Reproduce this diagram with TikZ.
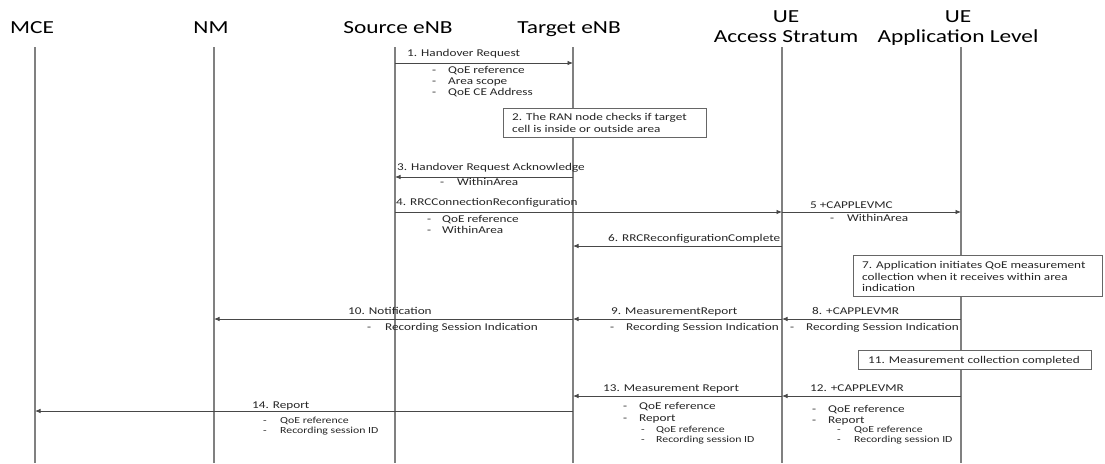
\documentclass[tikz,border=0pt]{standalone}
\usepackage{fontspec}
\setmainfont{Carlito}[FakeStretch=1.27]
\usetikzlibrary{arrows.meta}
\begin{document}
\begin{tikzpicture}[x=1pt,y=-1pt,
  life/.style={draw=black!50, line width=1.1pt},
  msg/.style={draw=black!72, line width=0.8pt, -{Latex[length=5.5pt,width=4.5pt]}},
  title/.style={font=\fontsize{18.4}{20}\selectfont, inner sep=0, anchor=base, text=black},
  lbl/.style={font=\fontsize{10.4}{12}\selectfont, anchor=base west, inner sep=0, text=black!85},
  sml/.style={font=\fontsize{9.3}{11}\selectfont, anchor=base west, inner sep=0, text=black!85},
  notebox/.style={draw=black!60, line width=0.9pt, fill=white, anchor=north west, inner sep=0}]
\useasboundingbox (0,0) rectangle (1105,463);
\fill[white] (0,0) rectangle (1105,463);
% titles
\node[title] (tMCE) at (32,33) {MCE};
\node[title] (tNM) at (211,33) {NM};
\node[title] (tSrc) at (398,33) {Source eNB};
\node[title] (tTgt) at (569,33) {Target eNB};
\node[title] (tASa) at (786,22) {UE};
\node[title] (tASb) at (786,42) {Access Stratum};
\node[title] (tAppa) at (958,22) {UE};
\node[title] (tAppb) at (958,42) {Application Level};
% lifelines
\coordinate (mce) at (35,47);  \coordinate (mceB) at (35,463);
\coordinate (nm)  at (214,47); \coordinate (nmB)  at (214,463);
\coordinate (src) at (395,47); \coordinate (srcB) at (395,463);
\coordinate (tgt) at (573,47); \coordinate (tgtB) at (573,463);
\coordinate (as)  at (782,47); \coordinate (asB)  at (782,463);
\coordinate (app) at (961,47); \coordinate (appB) at (961,463);
\foreach \a/\b in {mce/mceB,nm/nmB,src/srcB,tgt/tgtB,as/asB,app/appB}
  \draw[life] (\a) -- (\b);
% message rows
\coordinate (y1) at (0,63);
\coordinate (y3) at (0,177);
\coordinate (y4) at (0,212);
\coordinate (y6) at (0,246);
\coordinate (y8) at (0,319);
\coordinate (y12) at (0,396);
\coordinate (y14) at (0,411);
% 1
\draw[msg] (src |- y1) -- (tgt |- y1);
\node[lbl] (l1) at (407,56.5) {1. Handover Request};
\foreach \t/\yy in {QoE reference/73.5, Area scope/84.5, QoE CE Address/95.5}{
  \node[lbl] at (432,\yy) {-}; \node[lbl] at (448,\yy) {\t};}
% 2
\node[notebox, minimum width=203pt, minimum height=29pt] (b2) at (503,108) {};
\node[lbl] at (512,120.5) {2. The RAN node checks if target};
\node[lbl] at (512,132.5) {cell is inside or outside area};
% 3
\draw[msg] (tgt |- y3) -- (src |- y3);
\node[lbl] (l3) at (397,170.5) {3. Handover Request Acknowledge};
\node[lbl] at (440,185) {-}; \node[lbl] at (457,185) {WithinArea};
% 4
\draw[msg] (src |- y4) -- (as |- y4);
\node[lbl] (l4) at (396,205.5) {4. RRCConnectionReconfiguration};
\node[lbl] at (427,222.5) {-}; \node[lbl] at (442,222.5) {QoE reference};
\node[lbl] at (427,233.5) {-}; \node[lbl] at (442,233.5) {WithinArea};
% 5
\draw[msg] (as |- y4) -- (app |- y4);
\node[lbl] (l5) at (810,208.5) {5 +CAPPLEVMC};
\node[lbl] at (830,221) {-}; \node[lbl] at (847,221) {WithinArea};
% 6
\draw[msg] (as |- y6) -- (tgt |- y6);
\node[lbl] (l6) at (608,241.5) {6. RRCReconfigurationComplete};
% 7
\node[notebox, minimum width=249pt, minimum height=41pt] (b7) at (853,255) {};
\node[lbl] at (862,268.5) {7. Application initiates QoE measurement};
\node[lbl] at (862,280.5) {collection when it receives within area};
\node[lbl] at (862,291.5) {indication};
% 8,9,10
\draw[msg] (app |- y8) -- (as |- y8);
\draw[msg] (as |- y8) -- (tgt |- y8);
\draw[msg] (tgt |- y8) -- (nm |- y8);
\node[lbl] (l8) at (812,314.5) {8. +CAPPLEVMR};
\node[lbl] (l9) at (611,314.5) {9. MeasurementReport};
\node[lbl] (l10) at (348,314.5) {10. Notification};
\node[lbl] at (790,330.5) {-}; \node[lbl] at (806,330.5) {Recording Session Indication};
\node[lbl] at (610,330.5) {-}; \node[lbl] at (626,330.5) {Recording Session Indication};
\node[lbl] at (367,330.5) {-}; \node[lbl] at (385,330.5) {Recording Session Indication};
% 11
\node[notebox, minimum width=233pt, minimum height=19pt] (b11) at (858,350) {};
\node[lbl] at (868,363.5) {11. Measurement collection completed};
% 12
\draw[msg] (app |- y12) -- (as |- y12);
\node[lbl] (l12) at (810,391.5) {12. +CAPPLEVMR};
\node[lbl] at (812,412.5) {-}; \node[lbl] at (828,412.5) {QoE reference};
\node[lbl] at (812,423.5) {-}; \node[lbl] at (828,423.5) {Report};
\node[sml] at (837,432) {-}; \node[sml] at (854,432) {QoE reference};
\node[sml] at (837,442) {-}; \node[sml] at (854,442) {Recording session ID};
% 13
\draw[msg] (as |- y12) -- (tgt |- y12);
\node[lbl] (l13) at (603,391.5) {13. Measurement Report};
\node[lbl] at (623,409.5) {-}; \node[lbl] at (639,409.5) {QoE reference};
\node[lbl] at (623,421.5) {-}; \node[lbl] at (639,421.5) {Report};
\node[sml] at (641,432) {-}; \node[sml] at (656,432) {QoE reference};
\node[sml] at (641,442) {-}; \node[sml] at (656,442) {Recording session ID};
% 14
\draw[msg] (tgt |- y14) -- (mce |- y14);
\node[lbl] (l14) at (252,408) {14. Report};
\node[sml] at (263,423) {-}; \node[sml] at (280,423) {QoE reference};
\node[sml] at (263,433) {-}; \node[sml] at (280,433) {Recording session ID};
\end{tikzpicture}
\end{document}
